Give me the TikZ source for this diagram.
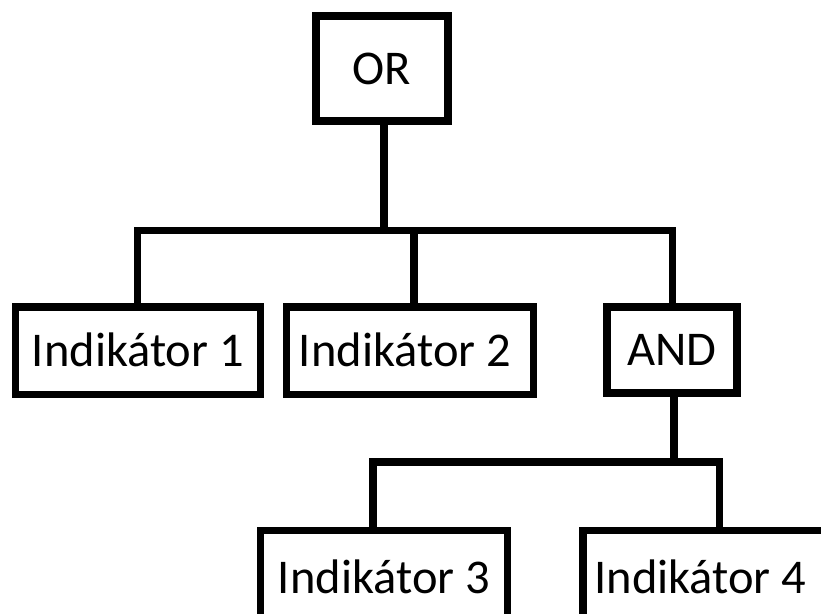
\documentclass[tikz,border=0pt]{standalone}
\usepackage{fontspec}
\setmainfont{Carlito}
\begin{document}
\begin{tikzpicture}[x=1pt,y=-1pt,
  gate/.style={draw=black,line width=7.6pt,rectangle,inner sep=0pt,
    text height=31pt,text depth=0pt,font=\fontsize{48.5}{58}\selectfont},
  link/.style={draw=black,line width=7.6pt,line join=miter}]
  \useasboundingbox (0,0) rectangle (821,613);
  \clip (0,0) rectangle (821,613);

  % boxes
  \node[gate,minimum width=132pt,minimum height=105pt] (or) at (382,68.5) {OR};
  \node[gate,minimum width=245pt,minimum height=87.5pt] (ind1) at (138,350.75) {Indikátor 1};
  \node[gate,minimum width=247pt,minimum height=87.5pt] (ind2) at (410,350.75) {\hspace*{-10pt}Indikátor 2};
  \node[gate,minimum width=130pt,minimum height=86pt] (and) at (672,350) {AND};
  \node[gate,minimum width=247pt,minimum height=95pt] (ind3) at (384,578) {Indikátor 3};
  \node[gate,minimum width=247pt,minimum height=95pt] (ind4) at (706.4,578) {\hspace*{-12pt}Indikátor 4};

  % junction points of the upper tree
  \coordinate (j1) at (384,230.5);
  \coordinate (b1l) at (137.5,230.5);
  \coordinate (b1m) at (414,230.5);
  \coordinate (b1r) at (672.5,230.5);
  % junction points of the lower tree
  \coordinate (j2) at (674,461.7);
  \coordinate (b2l) at (373,461.7);
  \coordinate (b2r) at (719.5,461.7);

  % connectors
  \draw[link] (or.south -| j1) -- (j1);
  \draw[link] (ind1.north -| b1l) -- (b1l) -- (b1r) -- (and.north -| b1r);
  \draw[link] (b1m) -- (ind2.north -| b1m);
  \draw[link] (and.south -| j2) -- (j2);
  \draw[link] (ind3.north -| b2l) -- (b2l) -- (b2r) -- (ind4.north -| b2r);
\end{tikzpicture}
\end{document}
